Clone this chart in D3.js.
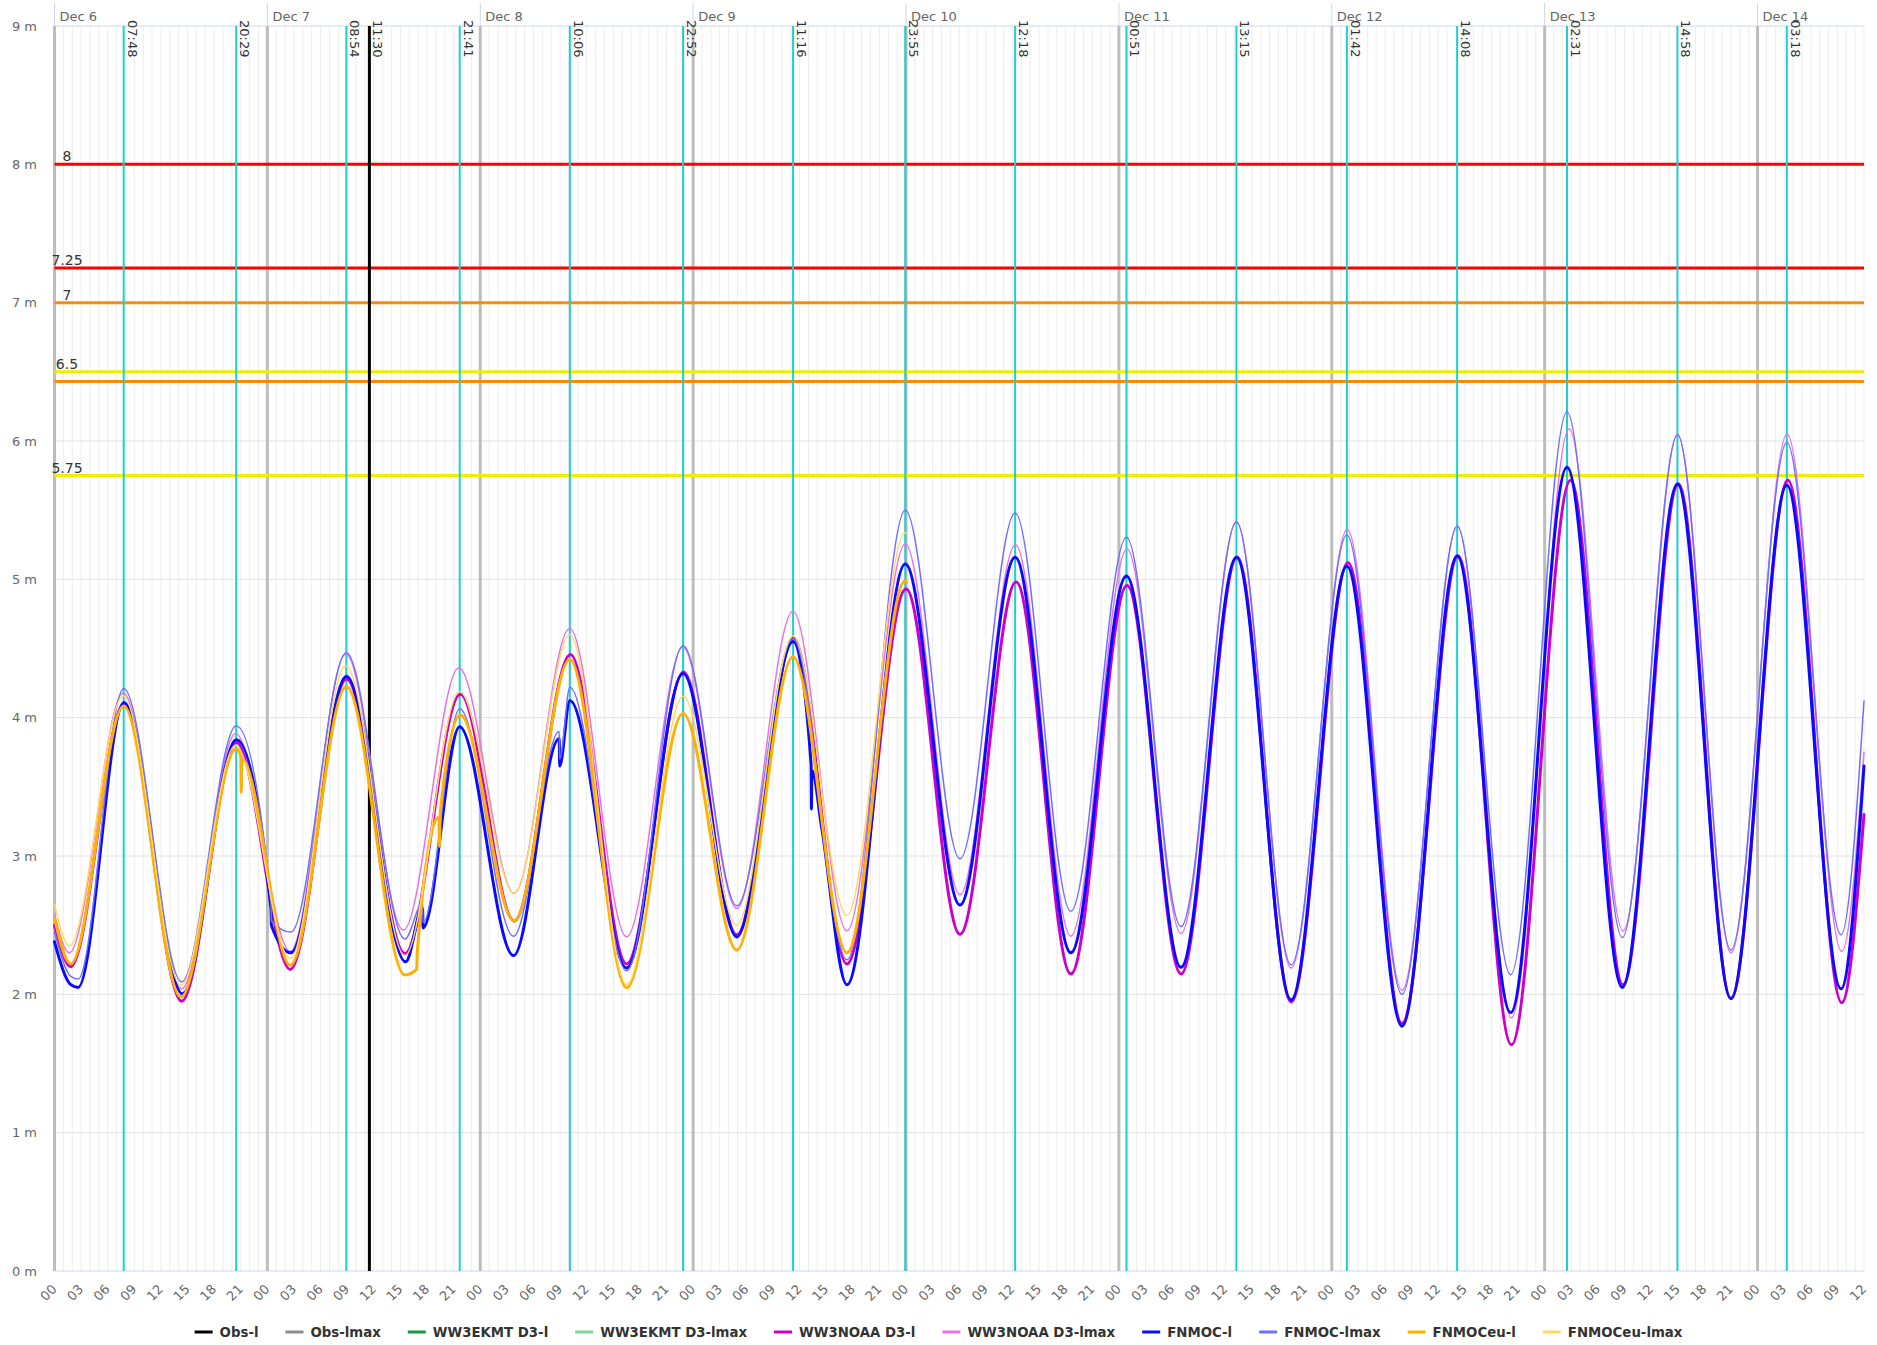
<!DOCTYPE html>
<html><head><meta charset="utf-8">
<script src="https://cdn.jsdelivr.net/npm/d3@7"></script>
<style>
body{margin:0;background:#fff;}
svg text{font-family:"DejaVu Sans",Verdana,sans-serif;}
</style>
</head><body>
<svg id="chart" width="1877" height="1345"></svg>
<script>
// ---------- DATA ----------
const yearMonth = "2023-12-";
const dayLabels = ["Dec 6","Dec 7","Dec 8","Dec 9","Dec 10","Dec 11","Dec 12","Dec 13","Dec 14"];
const dayTimes = ["06 00:00","07 00:00","08 00:00","09 00:00","10 00:00","11 00:00","12 00:00","13 00:00","14 00:00"];
const yTicks = [0,1,2,3,4,5,6,7,8,9];
const hourTickLabels = ["00","03","06","09","12","15","18","21"];
const tideTimes = ["06 07:48","06 20:29","07 08:54","07 21:41","08 10:06","08 22:52","09 11:16","09 23:55",
                   "10 12:18","11 00:51","11 13:15","12 01:42","12 14:08","13 02:31","13 14:58","14 03:18"];
const nowTime = "07 11:30";
const thresholdValues = [8, 7.25, 7, 6.5, 6.43, 5.75];
const thresholdLabels = ["8","7.25","7","6.5","","5.75"];
const seriesNames = ["Obs-l","Obs-lmax","WW3EKMT D3-l","WW3EKMT D3-lmax","WW3NOAA D3-l","WW3NOAA D3-lmax","FNMOC-l","FNMOC-lmax","FNMOCeu-l","FNMOCeu-lmax"];

const obsL = [];
const obsMax = [];
const ekmtL = [];
const ekmtMax = [];
const noaaL = [["06 00:00",2.50],["06 01:50",2.20],["06 07:50",4.10],["06 14:20",1.95],["06 20:30",3.82],["07 02:35",2.18],["07 08:55",4.28],["07 15:30",2.295],["07 21:45",4.17],["08 03:50",2.53],["08 10:10",4.457],["08 16:30",2.22],["08 22:55",4.33],["09 04:55",2.43],["09 11:20",4.576],["09 17:20",2.22],["10 00:00",4.93],["10 06:05",2.435],["10 12:25",4.98],["10 18:35",2.147],["11 00:55",4.955],["11 07:00",2.147],["11 13:20",5.16],["11 19:25",1.945],["12 01:50",5.12],["12 07:55",1.79],["12 14:15",5.168],["12 20:15",1.635],["13 02:55",5.716],["13 08:50",2.07],["13 15:05",5.69],["13 21:00",1.97],["14 03:25",5.716],["14 09:30",1.94],["14 12:00",3.30]];
const noaaMax = [["06 00:00",2.58],["06 01:40",2.30],["06 07:45",4.18],["06 14:20",2.04],["06 20:25",3.886],["07 02:35",2.31],["07 08:50",4.46],["07 15:20",2.465],["07 21:35",4.36],["08 03:50",2.73],["08 10:05",4.645],["08 16:30",2.415],["08 22:50",4.51],["09 04:55",2.62],["09 11:15",4.77],["09 17:20",2.46],["09 23:55",5.255],["10 06:05",2.72],["10 12:20",5.25],["10 18:35",2.42],["11 00:55",5.22],["11 07:00",2.44],["11 13:15",5.415],["11 19:25",2.19],["12 01:45",5.36],["12 07:55",2.03],["12 14:10",5.384],["12 20:15",1.83],["13 02:45",6.087],["13 08:50",2.458],["13 15:00",6.045],["13 21:00",2.30],["14 03:20",6.048],["14 09:30",2.31],["14 12:00",3.75]];
const fnmocL = [["06 00:00",2.38],["06 01:50",2.07],["06 02:40",2.05],["06 07:50",4.11],["06 14:25",2.005],["06 20:30",3.84],["07 00:24",2.62],["07 00:27",2.50],["07 02:40",2.30],["07 08:55",4.30],["07 15:35",2.235],["07 17:30",2.62],["07 17:33",2.48],["07 21:40",3.935],["08 03:45",2.28],["08 08:54",3.85],["08 08:57",3.65],["08 10:06",4.125],["08 16:30",2.19],["08 22:52",4.32],["09 04:55",2.415],["09 11:16",4.55],["09 13:18",3.66],["09 13:20",3.34],["09 13:23",3.62],["09 14:30",3.20],["09 17:20",2.07],["09 23:55",5.11],["10 06:05",2.645],["10 12:18",5.16],["10 18:35",2.30],["11 00:51",5.025],["11 07:00",2.195],["11 13:15",5.16],["11 19:25",1.96],["12 01:42",5.094],["12 07:55",1.77],["12 14:08",5.168],["12 20:10",1.868],["13 02:31",5.81],["13 08:45",2.05],["13 14:58",5.69],["13 21:00",1.97],["14 03:18",5.68],["14 09:25",2.04],["14 12:00",3.65]];
const fnmocMax = [["06 00:00",2.45],["06 01:50",2.13],["06 02:40",2.11],["06 07:48",4.21],["06 14:20",2.09],["06 20:29",3.94],["07 00:24",2.66],["07 00:27",2.53],["07 02:40",2.45],["07 08:54",4.47],["07 15:30",2.40],["07 17:30",2.66],["07 17:33",2.52],["07 21:41",4.065],["08 03:45",2.42],["08 08:54",3.90],["08 08:57",3.70],["08 10:06",4.22],["08 16:30",2.17],["08 22:52",4.52],["09 04:55",2.64],["09 11:16",4.57],["09 17:20",2.25],["09 23:55",5.50],["10 06:05",2.98],["10 12:18",5.48],["10 18:35",2.60],["11 00:51",5.305],["11 07:00",2.49],["11 13:15",5.415],["11 19:25",2.213],["12 01:42",5.32],["12 07:55",2.00],["12 14:08",5.384],["12 20:10",2.142],["13 02:31",6.21],["13 08:45",2.41],["13 14:58",6.045],["13 21:00",2.32],["14 03:18",5.99],["14 09:25",2.43],["14 12:00",4.12]];
const fnmocEuL = [["06 00:00",2.55],["06 01:50",2.22],["06 07:48",4.085],["06 14:15",1.98],["06 20:29",3.775],["06 21:00",3.72],["06 21:03",3.46],["06 21:08",3.70],["07 02:35",2.21],["07 08:54",4.225],["07 15:30",2.14],["07 16:50",2.18],["07 16:54",2.31],["07 19:20",3.28],["07 19:24",3.07],["07 19:30",3.32],["07 21:45",4.02],["08 03:50",2.53],["08 10:06",4.42],["08 16:30",2.047],["08 22:52",4.03],["09 04:55",2.32],["09 11:16",4.44],["09 17:20",2.30],["09 23:55",4.99],["10 00:05",4.98]];
const fnmocEuMax = [["06 00:00",2.65],["06 01:40",2.35],["06 07:45",4.157],["06 14:15",2.065],["06 20:25",3.80],["07 02:35",2.26],["07 08:50",4.375],["07 15:30",2.28],["07 21:40",4.19],["08 03:50",2.73],["08 10:06",4.60],["08 16:30",2.07],["08 22:52",4.155],["09 04:55",2.50],["09 11:16",4.59],["09 17:20",2.57],["09 23:55",5.34],["10 00:00",5.33]];

// ---------- STYLES ----------
const seriesData = [obsL, obsMax, ekmtL, ekmtMax, noaaL, noaaMax, fnmocL, fnmocMax, fnmocEuL, fnmocEuMax];
const seriesColors = ["#000000","#8c8c8c","#129a3c","#7fd49c","#cc00cc","#e870e8","#0a0aff","#6f6fff","#ffb000","#ffd860"];
const seriesWidths = [3,1.5,3,1.5,3,1.5,3,1.5,3,1.5];
const thresholdColors = ["#ff0000","#ff0000","#ff8c00","#eeee00","#ff8c00","#eeee00"];

// ---------- CHART ----------
const parse = s => d3.timeParse("%Y-%m-%d %H:%M")(yearMonth + s);
const W = 1877, H = 1345;
const pL = 54.5, pR = 1864, pT = 26, pB = 1271;
const svg = d3.select("#chart");

const x = d3.scaleTime().domain([parse("06 00:00"), parse("14 12:00")]).range([pL, pR]);
const y = d3.scaleLinear().domain([0, 9]).range([pB, pT]);

// hourly minor grid
const hours = d3.timeHour.range(parse("06 00:00"), d3.timeHour.offset(parse("14 12:00"), 1));
svg.append("g").selectAll("line").data(hours).join("line")
  .attr("x1", d => x(d)).attr("x2", d => x(d)).attr("y1", pT).attr("y2", pB)
  .attr("stroke", "#ededed").attr("stroke-width", 1);

// horizontal grid
svg.append("g").selectAll("line").data(yTicks.slice(1, -1)).join("line")
  .attr("x1", pL).attr("x2", pR).attr("y1", d => y(d)).attr("y2", d => y(d))
  .attr("stroke", "#e2e2e2").attr("stroke-width", 1);

// axis lines
svg.append("line").attr("x1", pL).attr("x2", pR).attr("y1", pT).attr("y2", pT).attr("stroke", "#ccd6eb");
svg.append("line").attr("x1", pL).attr("x2", pR).attr("y1", pB).attr("y2", pB).attr("stroke", "#ccd6eb");

// y labels
svg.append("g").selectAll("text").data(yTicks).join("text")
  .attr("x", 37).attr("y", d => y(d) + 4.5).attr("text-anchor", "end")
  .attr("font-size", 13).attr("fill", "#666").text(d => d + " m");

// day lines & top ticks
const days = dayTimes.map(parse);
svg.append("g").selectAll("line").data(days).join("line")
  .attr("x1", d => x(d)).attr("x2", d => x(d)).attr("y1", 3).attr("y2", pT)
  .attr("stroke", "#ccd6eb").attr("stroke-width", 1);
svg.append("g").selectAll("line").data(days).join("line")
  .attr("x1", d => x(d)).attr("x2", d => x(d)).attr("y1", pT).attr("y2", pB)
  .attr("stroke", "#bdbdbd").attr("stroke-width", 3);
svg.append("g").selectAll("text").data(days).join("text")
  .attr("x", d => x(d) + 5).attr("y", 21).attr("font-size", 13).attr("fill", "#666")
  .text((d, i) => dayLabels[i]);

// bottom hour labels
const threeHours = d3.timeHour.every(3).range(parse("06 00:00"), d3.timeMinute.offset(parse("14 12:00"), 1));
svg.append("g").selectAll("text").data(threeHours).join("text")
  .attr("transform", d => `translate(${x(d) + 3},${1290}) rotate(-45)`)
  .attr("text-anchor", "end").attr("font-size", 13).attr("fill", "#666")
  .text(d => hourTickLabels[d.getHours() / 3]);

// threshold lines
svg.append("g").selectAll("line").data(thresholdValues).join("line")
  .attr("x1", pL).attr("x2", pR).attr("y1", d => y(d)).attr("y2", d => y(d))
  .attr("stroke", (d, i) => thresholdColors[i]).attr("stroke-width", 3);
svg.append("g").selectAll("text").data(thresholdValues).join("text")
  .attr("x", 67).attr("y", d => y(d) - 3).attr("text-anchor", "middle")
  .attr("font-size", 14).attr("fill", "#333").text((d, i) => thresholdLabels[i]);

// tide lines
const tides = tideTimes.map(parse);
svg.append("g").selectAll("line").data(tides).join("line")
  .attr("x1", d => x(d)).attr("x2", d => x(d)).attr("y1", pT).attr("y2", pB)
  .attr("stroke", "#1ccfd2").attr("stroke-width", 2);

// now line
svg.append("line").attr("x1", x(parse(nowTime))).attr("x2", x(parse(nowTime)))
  .attr("y1", pT).attr("y2", pB).attr("stroke", "#000").attr("stroke-width", 3);

// series
const line = d3.line().x(d => x(parse(d[0]))).y(d => y(d[1])).curve(d3.curveMonotoneX);
svg.append("g").selectAll("path").data(seriesData).join("path")
  .attr("d", d => d.length ? line(d) : null)
  .attr("fill", "none")
  .attr("stroke", (d, i) => seriesColors[i])
  .attr("stroke-width", (d, i) => seriesWidths[i])
  .attr("stroke-linejoin", "round").attr("stroke-linecap", "round");

// tide labels
svg.append("g").selectAll("text").data(tides).join("text")
  .attr("transform", d => `translate(${x(d) + 4},${20}) rotate(90)`)
  .attr("font-size", 13).attr("fill", "#333")
  .text((d, i) => tideTimes[i].slice(3));
svg.append("text").attr("transform", `translate(${x(parse(nowTime)) + 4},${20}) rotate(90)`)
  .attr("font-size", 13).attr("fill", "#333").text(nowTime.slice(3));

// legend
const lg = svg.append("g").attr("transform", "translate(0,1337)");
const items = [];
seriesNames.forEach((name, i) => {
  const g = lg.append("g");
  g.append("line").attr("x1", 0).attr("x2", 18).attr("y1", -5).attr("y2", -5)
    .attr("stroke", seriesColors[i]).attr("stroke-width", 3);
  const t = g.append("text").attr("x", 25).attr("y", 0)
    .style("font-family", "'DejaVu Sans Condensed','DejaVu Sans',sans-serif")
    .style("font-stretch", "condensed")
    .attr("font-size", 14.8).attr("font-weight", "bold").attr("fill", "#333").text(name);
  const w = 25 + t.node().getComputedTextLength();
  items.push({g, w});
});
const gap = 27;
const total = d3.sum(items, d => d.w) + gap * (items.length - 1);
let cx = W / 2 - total / 2;
items.forEach(it => { it.g.attr("transform", `translate(${cx},0)`); cx += it.w + gap; });
</script>
</body></html>
